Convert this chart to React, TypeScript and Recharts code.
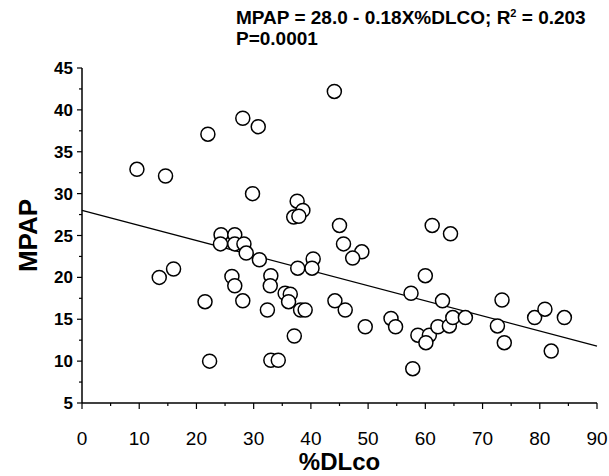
import React from "react";
import {
  ScatterChart,
  Scatter,
  XAxis,
  YAxis,
  Label,
} from "recharts";

// %DLco values (x) and MPAP values (y)
const dlco = [
  9.6, 14.6, 13.5, 16, 22, 28.1, 30.8, 29.8, 44.1, 24.3, 26.7, 24.2, 26.7,
  28.3, 28.7, 31, 26.2, 26.7, 21.5, 28.1, 22.3, 37.6, 38.6, 37, 37.9, 45,
  61.2, 45.7, 48.9, 47.3, 37.7, 40.4, 40.2, 60, 57.5, 63, 33, 32.9, 35.5,
  36.4, 36.1, 32.4, 38.2, 39, 37.1, 33, 34.3, 44.2, 46, 49.5, 54, 54.8, 57.8,
  58.7, 60.7, 60.1, 62.2, 64.4, 73.4, 64.2, 64.8, 67, 72.6, 73.8, 79.1, 80.9,
  84.3, 82,
];
const mpap = [
  32.9, 32.1, 20, 21, 37.1, 39, 38, 30, 42.2, 25.1, 25.1, 24, 24, 24, 22.9,
  22.1, 20.1, 19, 17.1, 17.2, 10, 29.1, 28, 27.2, 27.3, 26.2, 26.2, 24, 23.05,
  22.3, 21.1, 22.2, 21.1, 20.2, 18.1, 17.2, 20.2, 19, 18.1, 18, 17.1, 16.1,
  16.1, 16.1, 13, 10.1, 10.1, 17.2, 16.1, 14.1, 15.1, 14.1, 9.1, 13.1, 13.1,
  12.2, 14.1, 25.2, 17.3, 14.2, 15.2, 15.2, 14.2, 12.2, 15.2, 16.2, 15.2, 11.2,
];

// regression: MPAP = 28.0 - 0.18 x %DLCO
const intercept = 28.0;
const slope = -0.18;
const lineX = [0, 90];

const xTicks = [0, 5, 10, 15, 20, 25, 30, 35, 40, 45, 50, 55, 60, 65, 70, 75, 80, 85, 90];
const yTicks = [5, 7.5, 10, 12.5, 15, 17.5, 20, 22.5, 25, 27.5, 30, 32.5, 35, 37.5, 40, 42.5, 45];

const points = dlco.map((x, i) => ({ x, y: mpap[i] }));
const fitLine = lineX.map((x) => ({ x, y: intercept + slope * x }));

const FONT = "'Liberation Sans', Arial, sans-serif";

function LeftTick(props: any) {
  const { x, y, payload } = props;
  const major = payload.value % 5 === 0;
  return (
    <g>
      <line x1={x - (major ? 5 : 3)} x2={x} y1={y} y2={y} stroke="#000" strokeWidth={1.2} />
      {major && (
        <text x={x - 9} y={y} dy={6} textAnchor="end" fontFamily={FONT} fontWeight="bold" fontSize={17} fill="#000">
          {payload.value}
        </text>
      )}
    </g>
  );
}

function BottomTick(props: any) {
  const { x, y, payload } = props;
  const major = payload.value % 10 === 0;
  return (
    <g>
      <line x1={x} x2={x} y1={y} y2={y + (major ? 6 : 3)} stroke="#000" strokeWidth={1.2} />
      {major && (
        <text x={x} y={y + 42} textAnchor="middle" fontFamily={FONT} fontSize={19} fill="#000">
          {payload.value}
        </text>
      )}
    </g>
  );
}

function TopTick(props: any) {
  const { x, y, payload } = props;
  const major = payload.value % 10 === 0;
  return <line x1={x} x2={x} y1={y} y2={y - (major ? 4 : 2)} stroke="#000" strokeWidth={1.2} />;
}

function RightTick(props: any) {
  const { x, y } = props;
  return <line x1={x} x2={x + 5} y1={y} y2={y} stroke="#000" strokeWidth={1.2} />;
}

function Dot(props: any) {
  const { cx, cy } = props;
  return <circle cx={cx} cy={cy} r={7} fill="#fff" stroke="#000" strokeWidth={1.5} />;
}

export default function App() {
  return (
    <div style={{ position: "absolute", left: 0, top: 0, width: 609, height: 476, background: "#fff" }}>
      <div
        style={{
          position: "absolute",
          left: 236,
          top: 7,
          fontFamily: FONT,
          fontWeight: "bold",
          fontSize: 19,
          lineHeight: "21px",
          color: "#000",
          whiteSpace: "nowrap",
        }}
      >
        <div>
          MPAP = 28.0 - 0.18X%DLCO; R<sup style={{ fontSize: 11, verticalAlign: "7px", lineHeight: 0 }}>2</sup> = 0.203
        </div>
        <div>P=0.0001</div>
      </div>
      <ScatterChart width={609} height={476} margin={{ top: 68, right: 12, bottom: 3, left: 0 }}>
        <XAxis
          type="number"
          dataKey="x"
          domain={[0, 90]}
          ticks={xTicks}
          interval={0}
          tick={<BottomTick />}
          tickLine={false}
          tickSize={0}
          tickMargin={0}
          height={70}
          axisLine={{ stroke: "#000", strokeWidth: 1.5 }}
        >
          <Label
            value="%DLco"
            position="insideBottom"
            offset={3}
            style={{ fontFamily: FONT, fontWeight: "bold", fontSize: 24, fill: "#000" }}
          />
        </XAxis>
        <XAxis
          xAxisId="top"
          orientation="top"
          type="number"
          dataKey="x"
          domain={[0, 90]}
          ticks={xTicks}
          interval={0}
          tick={<TopTick />}
          tickLine={false}
          tickSize={0}
          tickMargin={0}
          height={0}
          axisLine={{ stroke: "#000", strokeWidth: 1.5 }}
        />
        <YAxis
          type="number"
          dataKey="y"
          domain={[5, 45]}
          ticks={yTicks}
          interval={0}
          tick={<LeftTick />}
          tickLine={false}
          tickSize={0}
          tickMargin={0}
          width={82}
          axisLine={{ stroke: "#000", strokeWidth: 1.5 }}
        >
          <Label
            value="MPAP"
            angle={-90}
            position="insideLeft"
            offset={28}
            style={{ fontFamily: FONT, fontWeight: "bold", fontSize: 26, fill: "#000", textAnchor: "middle" }}
          />
        </YAxis>
        <YAxis
          yAxisId="right"
          orientation="right"
          type="number"
          dataKey="y"
          domain={[5, 45]}
          ticks={yTicks}
          interval={0}
          tick={<RightTick />}
          tickLine={false}
          tickSize={0}
          tickMargin={0}
          width={0}
          axisLine={{ stroke: "#000", strokeWidth: 1.5 }}
        />
        <Scatter
          data={fitLine}
          line={{ stroke: "#000", strokeWidth: 1.3 }}
          shape={() => <g />}
          isAnimationActive={false}
        />
        <Scatter data={points} shape={<Dot />} isAnimationActive={false} />
      </ScatterChart>
    </div>
  );
}
